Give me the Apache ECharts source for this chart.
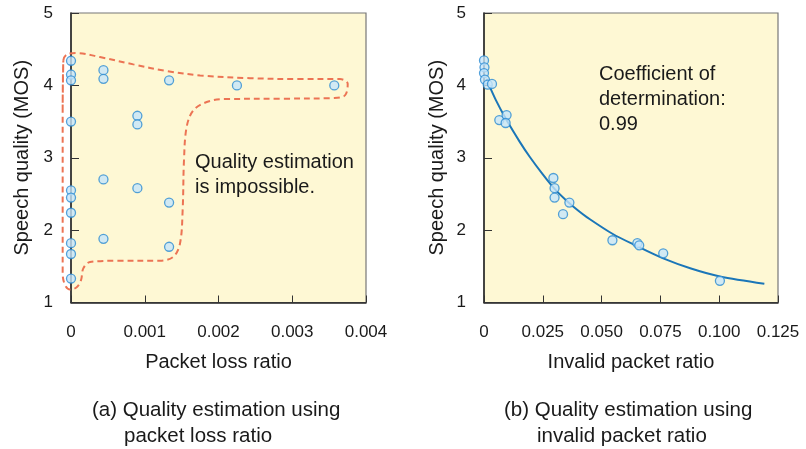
<!DOCTYPE html>
<html><head><meta charset="utf-8">
<script src="https://cdn.jsdelivr.net/npm/echarts/dist/echarts.min.js"></script>
<style>html,body{margin:0;padding:0;background:#fff}#c{width:806px;height:449px}</style>
</head><body><div id="c"></div>
<script>
// ---- data ----
const yTickLabels = ['1','2','3','4','5'];
const xTickLabelsA = ['0','0.001','0.002','0.003','0.004'];
const xTickLabelsB = ['0','0.025','0.050','0.075','0.100','0.125'];

const lossRatio = [0,0,0,0,0,0,0,0,0,0, 0.00044,0.00044,0.00044,0.00044, 0.0009,0.0009,0.0009, 0.00133,0.00133,0.00133, 0.00225, 0.00357];
const lossMOS   = [4.34,4.15,4.07,3.50,2.55,2.45,2.24,1.82,1.67,1.33, 4.21,4.09,2.70,1.88, 3.58,3.46,2.58, 4.07,2.38,1.77, 4.00, 4.00];

// dashed outline ("quality estimation is impossible" region)
const outlineX = [-0.000113,-0.000104,-0.000036,0.000077,0.000393,0.000845,0.001297,0.00175,0.002427,0.003105,0.003647,0.003752,0.003715,0.003557,0.002879,0.002065,0.00184,0.001659,0.001568,0.001532,0.001514,0.001478,0.001388,0.001207,0.000619,0.000258,0.000167,0.000136,0.000077,-0.0000136,-0.000081,-0.000113,-0.000113,-0.000113,-0.000104];
const outlineY = [3.655,4.345,4.437,4.446,4.391,4.29,4.198,4.138,4.10,4.087,4.087,4.023,3.862,3.825,3.816,3.81,3.77,3.655,3.425,2.966,2.276,1.816,1.632,1.577,1.577,1.559,1.471,1.31,1.21,1.18,1.241,1.40,2.276,3.655,4.345];

const invalidRatio = [0,0.0002,0,0.0004,0.0016,0.0034, 0.0065,0.0096,0.0092, 0.0295,0.030,0.030,0.0363,0.0336, 0.0546,0.0652,0.066,0.0762,0.1003];
const invalidMOS   = [4.345,4.25,4.17,4.08,4.01,4.02, 3.52,3.59,3.48, 2.72,2.58,2.45,2.38,2.22, 1.86,1.82,1.79,1.68,1.30];

// fitted curve, read along its path
const fitRatio = [0.001,0.005,0.0096,0.015,0.0195,0.025,0.030,0.035,0.040,0.0437,0.0546,0.065,0.0762,0.088,0.1003,0.1192];
const fitMOS   = [4.09,3.80,3.52,3.23,3.01,2.77,2.57,2.41,2.27,2.18,1.95,1.78,1.61,1.47,1.36,1.26];

// ---- chart ----
const FONT = 'Liberation Sans, Arial, sans-serif';
const TXT = '#1a1a1a';
const zip = (a,b)=>a.map((v,i)=>[v,b[i]]);

function xAxisCfg(gi, max, interval, labels, name){
  return {
    type:'value', gridIndex:gi, min:0, max:max, interval:interval,
    name:name, nameLocation:'middle', nameGap:50,
    nameTextStyle:{fontFamily:FONT,fontSize:20,color:TXT},
    axisLine:{show:true,lineStyle:{color:'#222',width:1.5}},
    axisTick:{show:true,inside:true,length:7,lineStyle:{color:'#333',width:1}},
    axisLabel:{fontFamily:FONT,fontSize:17,color:TXT,margin:21,showMinLabel:true,showMaxLabel:true,
      formatter:(v,i)=>labels[i]},
    splitLine:{show:false}
  };
}
function yAxisCfg(gi, gap){
  return {
    type:'value', gridIndex:gi, min:1, max:5, interval:1,
    name:'Speech quality (MOS)', nameLocation:'middle', nameGap:gap, nameRotate:90,
    nameTextStyle:{fontFamily:FONT,fontSize:20,color:TXT},
    axisLine:{show:true,lineStyle:{color:'#222',width:1.5}},
    axisTick:{show:true,inside:true,length:8,lineStyle:{color:'#333',width:1}},
    axisLabel:{fontFamily:FONT,fontSize:17,color:TXT,margin:18,showMinLabel:true,showMaxLabel:true,
      formatter:(v,i)=>yTickLabels[i]},
    splitLine:{show:false}
  };
}
const pointStyle = {color:'#C6E5FA',borderColor:'#2B8BD2',borderWidth:1.3};

const chart = echarts.init(document.getElementById('c'), null, {renderer:'canvas'});
chart.setOption({
  animation:false,
  backgroundColor:'#fff',
  grid:[
    {left:71,top:13,width:295,height:289.5,show:true,backgroundColor:'#FEF8D4',borderColor:'#777',borderWidth:1.2},
    {left:484,top:13,width:294,height:289.5,show:true,backgroundColor:'#FEF8D4',borderColor:'#777',borderWidth:1.2},
    // hidden overlay grid (same scale as grid 0, extended slightly left) for the dashed outline
    {left:56.25,top:13,width:309.75,height:289.5,show:false}
  ],
  xAxis:[
    xAxisCfg(0,0.004,0.001,xTickLabelsA,'Packet loss ratio'),
    xAxisCfg(1,0.125,0.025,xTickLabelsB,'Invalid packet ratio'),
    {type:'value',gridIndex:2,min:-0.0002,max:0.004,show:false,splitLine:{show:false}}
  ],
  yAxis:[ yAxisCfg(0,39), yAxisCfg(1,37),
    {type:'value',gridIndex:2,min:1,max:5,show:false,splitLine:{show:false}} ],
  series:[
    {type:'line',xAxisIndex:2,yAxisIndex:2,data:zip(outlineX,outlineY),smooth:0.35,clip:false,
      symbol:'none',lineStyle:{color:'#EC7454',width:2,type:[6,4]},z:2},
    {type:'scatter',xAxisIndex:0,yAxisIndex:0,data:zip(lossRatio,lossMOS),symbolSize:9,itemStyle:pointStyle,clip:false,z:3},
    {type:'line',xAxisIndex:1,yAxisIndex:1,data:zip(fitRatio,fitMOS),smooth:0.3,symbol:'none',
      lineStyle:{color:'#1B76B8',width:2},z:2},
    {type:'scatter',xAxisIndex:1,yAxisIndex:1,data:zip(invalidRatio,invalidMOS),symbolSize:9,itemStyle:pointStyle,clip:false,z:3}
  ],
  graphic:[
    {type:'text',left:195,top:150,z:10,style:{text:'Quality estimation\nis impossible.',fontFamily:FONT,fontSize:20,lineHeight:25,fill:TXT}},
    {type:'text',left:599,top:62,z:10,style:{text:'Coefficient of\ndetermination:\n0.99',fontFamily:FONT,fontSize:20,lineHeight:25,fill:TXT}},
    {type:'text',left:92,top:398,style:{text:'(a) Quality estimation using',fontFamily:FONT,fontSize:20.5,lineHeight:24,fill:TXT}},
    {type:'text',left:124,top:424,style:{text:'packet loss ratio',fontFamily:FONT,fontSize:20.5,lineHeight:24,fill:TXT}},
    {type:'text',left:504,top:398,style:{text:'(b) Quality estimation using',fontFamily:FONT,fontSize:20.5,lineHeight:24,fill:TXT}},
    {type:'text',left:537,top:424,style:{text:'invalid packet ratio',fontFamily:FONT,fontSize:20.5,lineHeight:24,fill:TXT}}
  ]
});
</script>
</body></html>
